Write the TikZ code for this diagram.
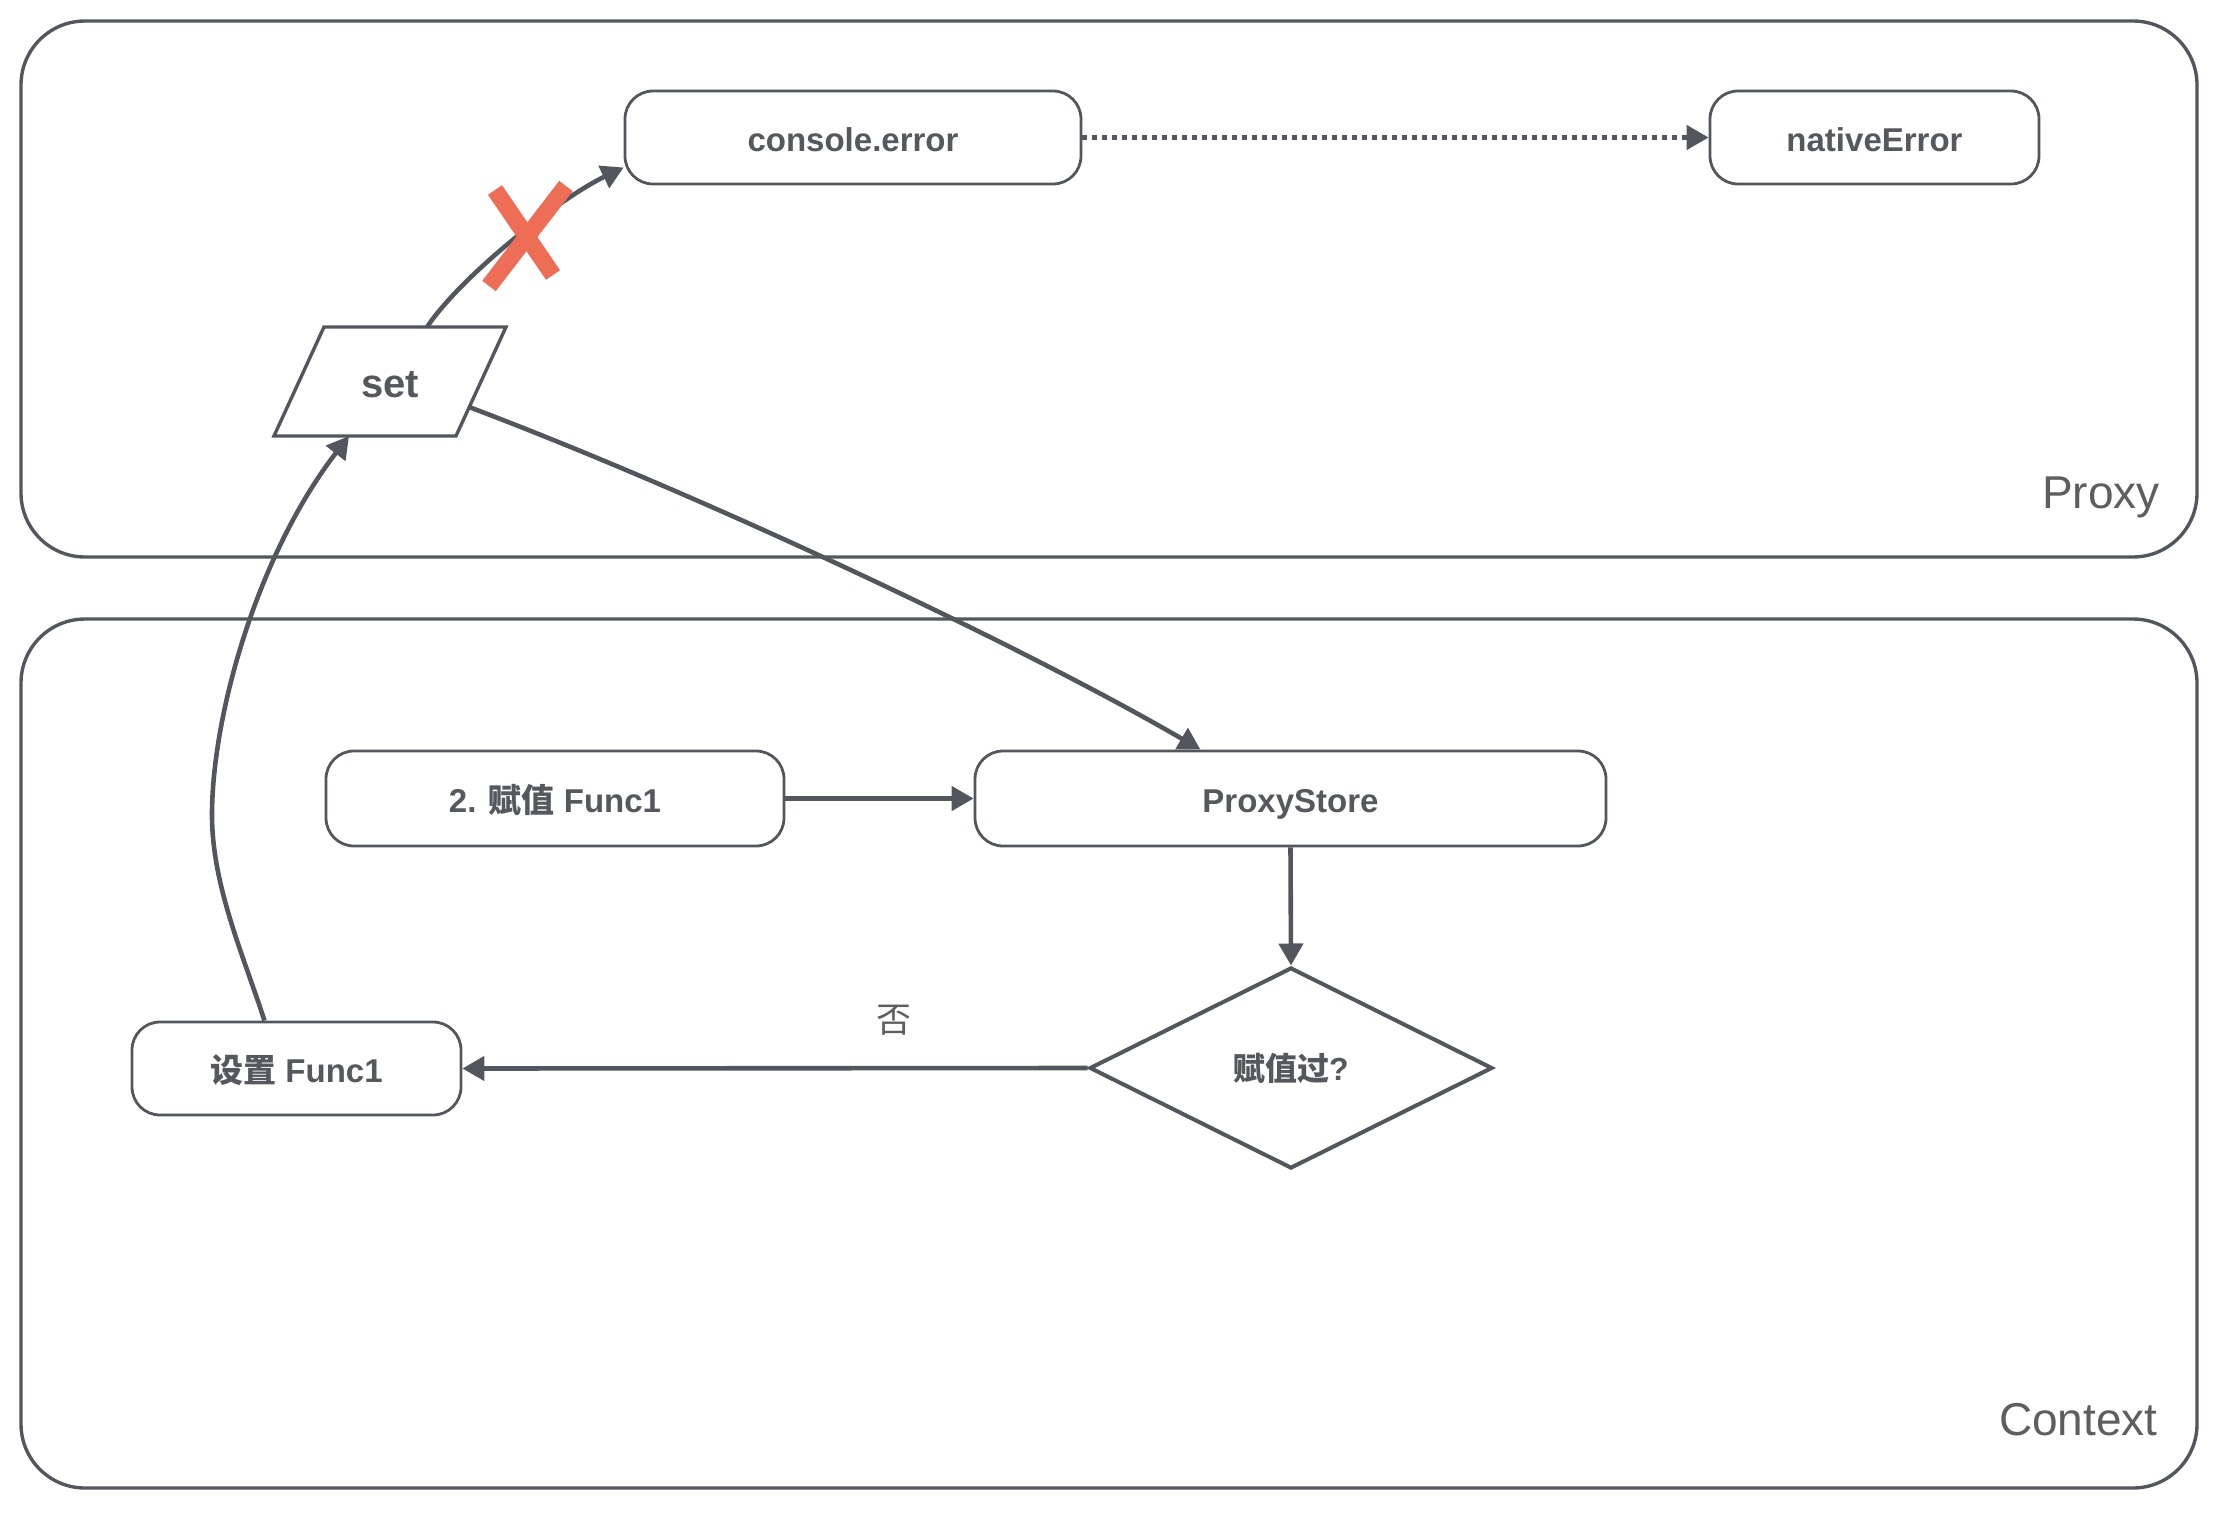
\documentclass[tikz,border=0pt]{standalone}
\usepackage{fontspec}
\setmainfont{Liberation Sans}
\newfontfamily\cjk{Noto Sans CJK SC}
\usetikzlibrary{arrows.meta,shapes.geometric}
\definecolor{ln}{HTML}{53575D}
\definecolor{tx}{HTML}{55585D}
\definecolor{lb}{HTML}{5E5E5E}
\definecolor{xred}{HTML}{EE6D57}
\begin{document}
\begin{tikzpicture}[x=0.5pt,y=-0.5pt,
  box/.style={draw=ln, line width=1.4pt, rounded corners=14pt, inner sep=0pt,
    text height=15pt, text depth=1.5pt,
    font=\bfseries\fontsize{16.5}{20}\selectfont, text=tx},
  group/.style={draw=ln, line width=1.7pt, rounded corners=32pt, inner sep=0pt},
  grouplabel/.style={anchor=base east, inner sep=0pt, text=lb, font=\fontsize{23}{28}\selectfont},
  arr/.style={draw=ln, line width=2.3pt, -{Triangle[length=11pt,width=12pt]}},
  cross/.style={draw=xred, line width=8.5pt},
]
\useasboundingbox (0,0) rectangle (2222,1520);
% containers
\node[group, minimum width=1088pt, minimum height=268pt] (proxybox) at (1109,289) {};
\node[group, minimum width=1088pt, minimum height=434.5pt] (contextbox) at (1109,1053.5) {};
\node[grouplabel] (proxylabel) at (2160,508) {Proxy};
\node[grouplabel] (contextlabel) at (2158,1435) {Context};
% nodes
\node[box, minimum width=228pt, minimum height=46.5pt] (ce) at (853,137.5) {console.error};
\node[box, minimum width=164.5pt, minimum height=46.5pt] (ne) at (1874.5,137.5) {nativeError};
\node[box, minimum width=229pt, minimum height=47.5pt] (fz) at (555,798.5) {2. {\cjk 赋值} Func1};
\node[box, minimum width=315.5pt, minimum height=47.5pt] (ps) at (1290.5,798.5) {ProxyStore};
\node[box, minimum width=164.5pt, minimum height=46.5pt] (sz) at (296.5,1068.5) {{\cjk 设置} Func1};
\node[diamond, draw=ln, line width=2pt, inner sep=0pt, minimum width=201.5pt, minimum height=100.5pt,
  font=\bfseries\fontsize{16}{20}\selectfont, text=tx] (dm) at (1291,1068) {{\cjk 赋值过}?};
% set parallelogram
\draw[ln, line width=1.7pt] (324,327) -- (506,327) -- (456,436) -- (274,436) -- cycle;
\node[inner sep=0pt, text=tx, text height=15.5pt, text depth=0pt,
  font=\bfseries\fontsize{20}{24}\selectfont] (set) at (390,381.5) {set};
\coordinate (settop) at (427,327);
\coordinate (setright) at (469,407);
\coordinate (setbot) at (349,436);
\coordinate (bend) at (212,815);
% connectors
\draw[arr] (settop) .. controls (462,275) and (560,198) .. ([yshift=-15pt]ce.west);
\draw[arr, dash pattern=on 2.5pt off 2.5pt] (ce.east) -- (ne.west);
\draw[arr] (setright) .. controls (705,496) and (1026,648) .. ([xshift=-45pt]ps.north);
\draw[arr] (fz.east) -- (ps.west);
\draw[arr] (ps.south) -- (dm.north);
\draw[arr] (dm.west) -- node[pos=0.31, yshift=24pt, inner sep=0pt, text=lb, font=\cjk\fontsize{17.5}{20}\selectfont] (no) {否} (sz.east);
\draw[arr] ([xshift=-16pt]sz.north) .. controls (243,954.5) and (212,885) .. (bend)
  .. controls (212,715) and (257.5,554.5) .. (setbot);
% cross mark
\draw[cross] (495,190) -- (553,275);
\draw[cross] (566,186) -- (489,286);
\end{tikzpicture}
\end{document}
